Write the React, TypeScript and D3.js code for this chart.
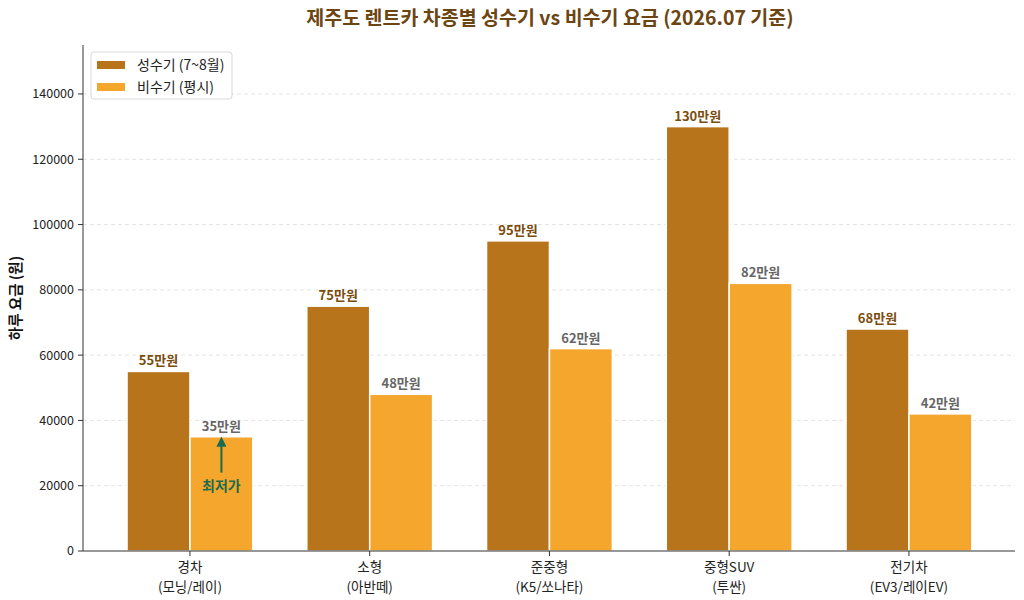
import React from "react";
import * as d3 from "d3";

const categories = ["경차\n(모닝/레이)", "소형\n(아반떼)", "준중형\n(K5/쏘나타)", "중형SUV\n(투싼)", "전기차\n(EV3/레이EV)"];
const peakValues = [55000, 75000, 95000, 130000, 68000];
const offValues = [35000, 48000, 62000, 82000, 42000];
const yTicks = [0, 20000, 40000, 60000, 80000, 100000, 120000, 140000];
const seriesNames = ["성수기 (7~8월)", "비수기 (평시)"];

const W = 1024;
const H = 600;
const M = { left: 83, right: 1015, top: 45, bottom: 551 };
const FONT = "'Noto Sans CJK KR', 'Noto Sans', sans-serif";
const PEAK = "#B8741A";
const OFF = "#F4A72C";

export default function App() {
  const x = d3.scaleLinear().domain([-0.595, 4.59]).range([M.left, M.right]);
  const y = d3.scaleLinear().domain([0, 155000]).range([M.bottom, M.top]);
  const bw = 0.35;
  const barW = x(bw) - x(0);
  const label = (v: number) => `${v / 1000}만원`;

  return (
    <svg width={W} height={H} style={{ position: "absolute", left: 0, top: 0, background: "#fff" }} fontFamily={FONT}>
      <text x={550} y={25} textAnchor="middle" fontSize={19.5} fontWeight={700} fill="#6B4512">
        제주도 렌트카 차종별 성수기 vs 비수기 요금 (2026.07 기준)
      </text>

      {yTicks.map((t) => (
        <g key={t}>
          {t > 0 && (
            <line x1={M.left} x2={M.right} y1={y(t)} y2={y(t)} stroke="#ddd" strokeDasharray="4,3" strokeWidth={0.8} />
          )}
          <line x1={M.left - 5} x2={M.left} y1={y(t)} y2={y(t)} stroke="#333" />
          <text x={M.left - 9} y={y(t)} dy="0.35em" textAnchor="end" fontSize={12.5} fill="#222">
            {t}
          </text>
        </g>
      ))}

      {categories.map((c, i) => (
        <g key={c}>
          <rect x={x(i - bw)} y={y(peakValues[i])} width={barW} height={y(0) - y(peakValues[i])} fill={PEAK} stroke="#fff" strokeWidth={1.5} />
          <rect x={x(i)} y={y(offValues[i])} width={barW} height={y(0) - y(offValues[i])} fill={OFF} stroke="#fff" strokeWidth={1.5} />
          <text x={x(i - bw / 2)} y={y(peakValues[i]) - 6} textAnchor="middle" fontSize={13} fontWeight={700} fill="#7A4C0E">
            {label(peakValues[i])}
          </text>
          <text x={x(i + bw / 2)} y={y(offValues[i]) - 6} textAnchor="middle" fontSize={13} fontWeight={700} fill="#666">
            {label(offValues[i])}
          </text>
          <line x1={x(i)} x2={x(i)} y1={M.bottom} y2={M.bottom + 5} stroke="#333" />
          {c.split("\n").map((line, k) => (
            <text key={k} x={x(i)} y={M.bottom + 21 + k * 20} textAnchor="middle" fontSize={13.5} fill="#222">
              {line}
            </text>
          ))}
        </g>
      ))}

      <line x1={M.left} x2={M.left} y1={M.top} y2={M.bottom} stroke="#333" strokeWidth={1} />
      <line x1={M.left} x2={M.right} y1={M.bottom} y2={M.bottom} stroke="#333" strokeWidth={1} />

      {/* lowest-price annotation on the compact off-season bar */}
      <defs>
        <marker id="arrowHead" viewBox="0 0 10 10" refX="5" refY="5" markerWidth="5" markerHeight="5" orient="auto">
          <path d="M0,0 L10,5 L0,10 z" fill="#1D6B4E" />
        </marker>
      </defs>
      <line x1={x(bw / 2)} x2={x(bw / 2)} y1={y(24000)} y2={y(33500)} stroke="#1D6B4E" strokeWidth={2} markerEnd="url(#arrowHead)" />
      <text x={x(bw / 2)} y={y(20000) + 5} textAnchor="middle" fontSize={14} fontWeight={700} fill="#1D6B4E">
        최저가
      </text>

      <text transform={`translate(21,${(M.top + M.bottom) / 2}) rotate(-90)`} textAnchor="middle" fontSize={14.5} fontWeight={700} fill="#111">
        하루 요금 (원)
      </text>

      <g>
        <rect x={91} y={52} width={141} height={47} rx={3} fill="#fff" stroke="#ccc" strokeWidth={0.8} opacity={0.9} />
        {seriesNames.map((s, k) => (
          <g key={s}>
            <rect x={97} y={61 + k * 22} width={28} height={8} fill={k === 0 ? PEAK : OFF} />
            <text x={137} y={65 + k * 22} dy="0.35em" fontSize={14} fill="#222">
              {s}
            </text>
          </g>
        ))}
      </g>
    </svg>
  );
}
